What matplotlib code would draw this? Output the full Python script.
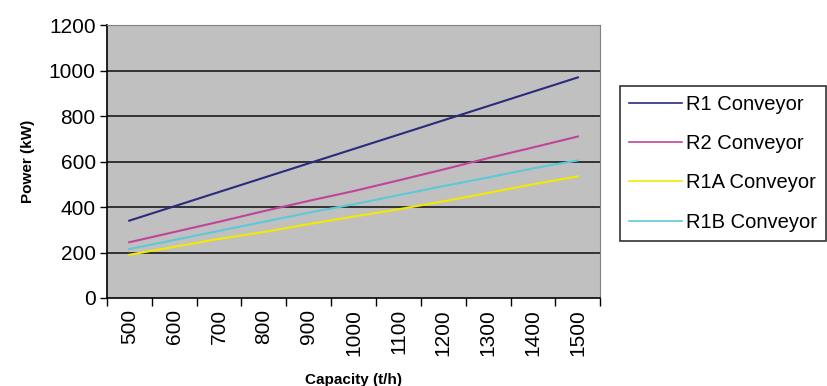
import matplotlib
matplotlib.use("Agg")
import matplotlib.pyplot as plt
import numpy as np

plt.rcParams["font.family"] = ["Liberation Sans", "DejaVu Sans"]

# Data
capacity = [500, 600, 700, 800, 900, 1000, 1100, 1200, 1300, 1400, 1500]
r1 = [340, 403, 466, 529, 592, 655, 718, 781, 844, 907, 970]
r2 = [245, 290, 335, 382, 427, 470, 517, 565, 615, 662, 710]
r1a = [190, 225, 260, 290, 325, 358, 390, 425, 462, 500, 535]
r1b = [215, 255, 295, 335, 375, 412, 452, 492, 530, 570, 605]

series = [
    ("R1 Conveyor", r1, "#2b2b7e"),
    ("R2 Conveyor", r2, "#c0449a"),
    ("R1A Conveyor", r1a, "#f2ea00"),
    ("R1B Conveyor", r1b, "#5cc8d8"),
]

fig = plt.figure(figsize=(8.28, 3.86), dpi=100)
ax = fig.add_axes([0.129, 0.228, 0.596, 0.707])
ax.set_facecolor("#c0c0c0")

x = np.arange(len(capacity))
for label, vals, color in series:
    ax.plot(x, vals, color=color, lw=1.5, label=label)

ax.set_xlim(-0.5, len(capacity) - 0.5)
ax.set_ylim(0, 1200)
ax.set_yticks(range(0, 1201, 200))
ax.tick_params(axis="y", labelsize=15, length=5, direction="out", width=1, pad=3)
ax.set_xticks(x)
ax.set_xticklabels([str(c) for c in capacity], rotation=90, fontsize=15)
ax.tick_params(axis="x", which="major", length=0, pad=8)
ax.set_xticks(np.arange(-0.5, len(capacity)), minor=True)
ax.tick_params(axis="x", which="minor", length=6, width=1, direction="out")

for yv in range(200, 1201, 200):
    ax.axhline(yv, color="#1a1a1a", lw=1.2, zorder=1)

for side in ("top", "right"):
    ax.spines[side].set_color("#808080")
ax.spines["left"].set_color("black")
ax.spines["bottom"].set_color("black")
ax.spines["left"].set_linewidth(1.2)
ax.spines["bottom"].set_linewidth(1.2)

ax.set_ylabel("Power (kW)", fontsize=11, fontweight="bold", labelpad=10)
ax.set_xlabel("Capacity (t/h)", fontsize=11, fontweight="bold", labelpad=12)

leg = fig.legend(loc="upper left", bbox_to_anchor=(0.749, 0.777), fontsize=14.5,
                 frameon=True, fancybox=False, handlelength=2.6,
                 handletextpad=0.2, labelspacing=1.0, borderpad=0.45,
                 borderaxespad=0)
leg.get_frame().set_edgecolor("black")
leg.get_frame().set_linewidth(1.2)
for line in leg.get_lines():
    line.set_linewidth(1.2)

fig.savefig("out.png", dpi=100)
